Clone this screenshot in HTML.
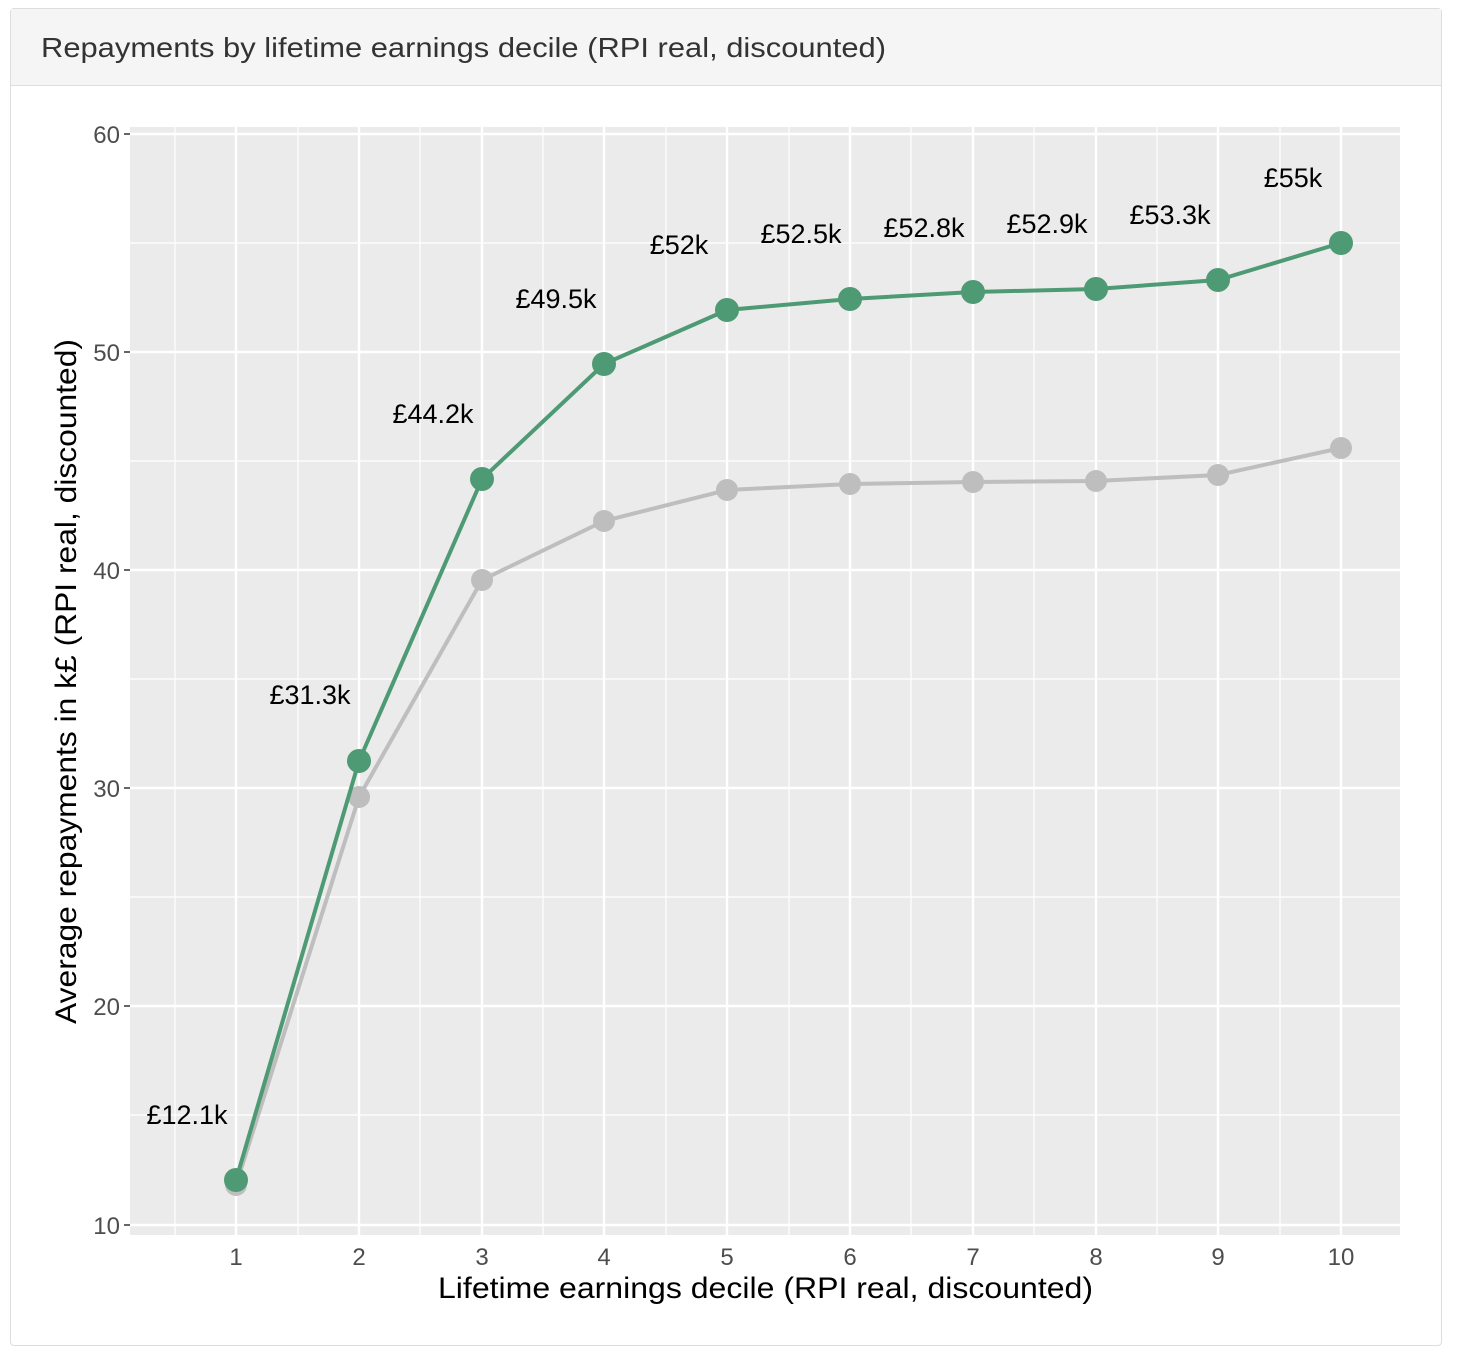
<!DOCTYPE html>
<html><head><meta charset="utf-8"><style>
body{margin:0;background:#fff;width:1462px;height:1352px;overflow:hidden;font-family:"Liberation Sans",sans-serif}
.card{position:absolute;left:10px;top:8px;width:1430px;height:1336px;border:1px solid #ddd;border-radius:4px;background:#fff}
.hd{position:absolute;left:0;top:0;right:0;height:76px;background:#f5f5f5;border-bottom:1px solid #ddd}
</style></head><body>
<div class="card"><div class="hd"></div></div>
<svg width="1462" height="1352" style="position:absolute;left:0;top:0" font-family="Liberation Sans, sans-serif">
<text x="41" y="57" font-size="28" fill="#333" textLength="845" lengthAdjust="spacingAndGlyphs">Repayments by lifetime earnings decile (RPI real, discounted)</text>
<rect x="130" y="127" width="1270" height="1108" fill="#ebebeb"/>
<g stroke="#fff" stroke-width="1.2">
<line x1="130" x2="1400" y1="243" y2="243"/><line x1="130" x2="1400" y1="461" y2="461"/><line x1="130" x2="1400" y1="679" y2="679"/><line x1="130" x2="1400" y1="897" y2="897"/><line x1="130" x2="1400" y1="1115" y2="1115"/>
<line y1="127" y2="1235" x1="175" x2="175"/><line y1="127" y2="1235" x1="298" x2="298"/><line y1="127" y2="1235" x1="420" x2="420"/><line y1="127" y2="1235" x1="543" x2="543"/><line y1="127" y2="1235" x1="666" x2="666"/><line y1="127" y2="1235" x1="789" x2="789"/><line y1="127" y2="1235" x1="911" x2="911"/><line y1="127" y2="1235" x1="1034" x2="1034"/><line y1="127" y2="1235" x1="1157" x2="1157"/><line y1="127" y2="1235" x1="1280" x2="1280"/>
</g>
<g stroke="#fff" stroke-width="2.4">
<line x1="130" x2="1400" y1="134" y2="134"/><line x1="130" x2="1400" y1="352" y2="352"/><line x1="130" x2="1400" y1="570" y2="570"/><line x1="130" x2="1400" y1="788" y2="788"/><line x1="130" x2="1400" y1="1006" y2="1006"/><line x1="130" x2="1400" y1="1225" y2="1225"/>
<line y1="127" y2="1235" x1="236" x2="236"/><line y1="127" y2="1235" x1="359" x2="359"/><line y1="127" y2="1235" x1="482" x2="482"/><line y1="127" y2="1235" x1="604" x2="604"/><line y1="127" y2="1235" x1="727" x2="727"/><line y1="127" y2="1235" x1="850" x2="850"/><line y1="127" y2="1235" x1="973" x2="973"/><line y1="127" y2="1235" x1="1096" x2="1096"/><line y1="127" y2="1235" x1="1218" x2="1218"/><line y1="127" y2="1235" x1="1341" x2="1341"/>
</g>
<g stroke="#333" stroke-width="1.5">
<line x1="124" x2="130" y1="134" y2="134"/><line x1="124" x2="130" y1="352" y2="352"/><line x1="124" x2="130" y1="570" y2="570"/><line x1="124" x2="130" y1="788" y2="788"/><line x1="124" x2="130" y1="1006" y2="1006"/><line x1="124" x2="130" y1="1225" y2="1225"/>
</g>
<g font-size="24" fill="#4d4d4d" text-anchor="end">
<text x="120" y="143">60</text><text x="120" y="361">50</text><text x="120" y="579">40</text><text x="120" y="797">30</text><text x="120" y="1015">20</text><text x="120" y="1234">10</text>
</g>
<g font-size="24" fill="#4d4d4d" text-anchor="middle">
<text x="236" y="1265">1</text><text x="359" y="1265">2</text><text x="482" y="1265">3</text><text x="604" y="1265">4</text><text x="727" y="1265">5</text><text x="850" y="1265">6</text><text x="973" y="1265">7</text><text x="1096" y="1265">8</text><text x="1218" y="1265">9</text><text x="1341" y="1265">10</text>
</g>
<text x="438" y="1298" font-size="30" fill="#000" textLength="655" lengthAdjust="spacingAndGlyphs">Lifetime earnings decile (RPI real, discounted)</text>
<text transform="translate(76,1024) rotate(-90)" font-size="30" fill="#000" textLength="685" lengthAdjust="spacingAndGlyphs">Average repayments in k£ (RPI real, discounted)</text>
<polyline fill="none" stroke="#bebebe" stroke-width="4" points="236,1185 359,797 482,580 604,521 727,490 850,484 973,482 1096,481 1218,475 1341,448"/>
<g fill="#bebebe"><circle cx="236" cy="1185" r="11"/><circle cx="359" cy="797" r="11"/><circle cx="482" cy="580" r="11"/><circle cx="604" cy="521" r="11"/><circle cx="727" cy="490" r="11"/><circle cx="850" cy="484" r="11"/><circle cx="973" cy="482" r="11"/><circle cx="1096" cy="481" r="11"/><circle cx="1218" cy="475" r="11"/><circle cx="1341" cy="448" r="11"/></g>
<polyline fill="none" stroke="#4e9a74" stroke-width="4" points="236,1180 359,761 482,479 604,364 727,310 850,299 973,292 1096,289 1218,280 1341,243"/>
<g fill="#4e9a74"><circle cx="236" cy="1180" r="12"/><circle cx="359" cy="761" r="12"/><circle cx="482" cy="479" r="12"/><circle cx="604" cy="364" r="12"/><circle cx="727" cy="310" r="12"/><circle cx="850" cy="299" r="12"/><circle cx="973" cy="292" r="12"/><circle cx="1096" cy="289" r="12"/><circle cx="1218" cy="280" r="12"/><circle cx="1341" cy="243" r="12"/></g>
<g font-size="27" fill="#000" text-anchor="middle">
<text x="187" y="1124">£12.1k</text><text x="310" y="704">£31.3k</text><text x="433" y="423">£44.2k</text><text x="556" y="308">£49.5k</text><text x="679" y="254">£52k</text><text x="801" y="243">£52.5k</text><text x="924" y="237">£52.8k</text><text x="1047" y="233">£52.9k</text><text x="1170" y="224">£53.3k</text><text x="1293" y="187">£55k</text>
</g>
</svg>
</body></html>
